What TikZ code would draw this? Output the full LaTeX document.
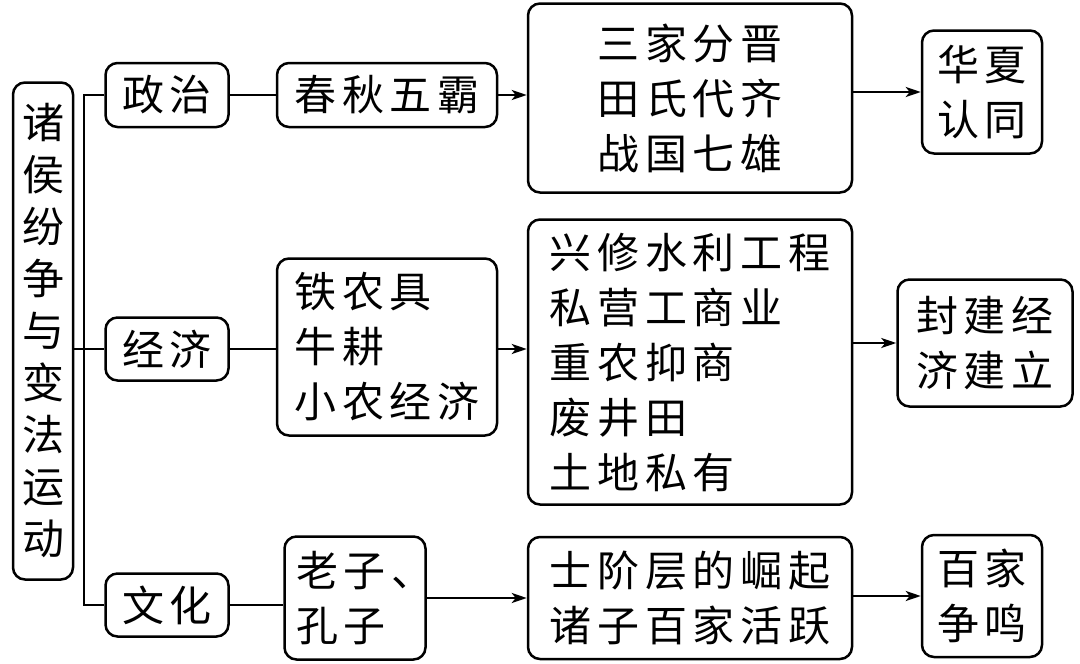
\documentclass[tikz,border=0pt]{standalone}
\usepackage{fontspec}
\setmainfont[LetterSpace=14]{Noto Sans CJK SC}
\usetikzlibrary{arrows.meta}

\begin{document}
\begin{tikzpicture}[x=1pt,y=-1pt,line width=2.5pt,
    every node/.style={draw,rounded corners=12pt,inner sep=0,align=left,font=\fontsize{42}{55}\selectfont},
    arr/.style={-{Stealth[length=15pt,width=10pt,inset=4pt]}}]
        \useasboundingbox (0,0) rectangle (1080,664);
        \node[minimum width=60,minimum height=497,align=center,font=\fontsize{42}{52}\selectfont] (zhu) at (43,331) {诸\\侯\\纷\\争\\与\\变\\法\\运\\动};
        \node[minimum width=123,minimum height=64] (zz) at (167,95) {政治};
        \node[minimum width=123,minimum height=63] (jj) at (167,349) {经济};
        \node[minimum width=123,minimum height=63] (wh) at (167,605) {文化};
        \node[minimum width=220,minimum height=64] (cq) at (387,95) {春秋五霸};
        \node[minimum width=324,minimum height=189,align=center] (sj) at (690,98) {三家分晋\\田氏代齐\\战国七雄};
        \node[minimum width=120,minimum height=123,align=center] (hx) at (982,92) {华夏\\认同};
        \node[minimum width=220,minimum height=177] (tn) at (387,347) {铁农具\\牛耕\\小农经济};
        \node[minimum width=324,minimum height=285] (xx) at (690,362) {兴修水利工程\\私营工商业\\重农抑商\\废井田\\土地私有};
        \node[minimum width=175,minimum height=127,align=center] (fj) at (985,343) {封建经\\济建立};
        \node[minimum width=141,minimum height=123,text width=118] (lz) at (355,598) {老子、\\孔子};
        \node[minimum width=324,minimum height=122] (sc) at (690,598) {士阶层的崛起\\诸子百家活跃};
        \node[minimum width=120,minimum height=122,align=center] (bj) at (982,596) {百家\\争鸣};
        \coordinate (bx) at (84,349);
        \draw (zz.west) -| (bx) |- (wh.west);
        \draw (zhu.east |- jj.west) -- (jj.west);
        \draw (zz) -- (cq) (jj.east) -- (jj.east -| tn.west) (wh.east) -- (wh.east -| lz.west);
        \draw[arr] (cq.east) -- (cq.east -| sj.west);
        \draw[arr] (sj.east |- hx.west) -- (hx.west);
        \draw[arr] (tn.east |- jj.east) -- (jj.east -| xx.west);
        \draw[arr] (xx.east |- fj.west) -- (fj.west);
        \draw[arr] (lz.east) -- (lz.east -| sc.west);
        \draw[arr] (sc.east |- bj.west) -- (bj.west);
      \end{tikzpicture}
\end{document}
